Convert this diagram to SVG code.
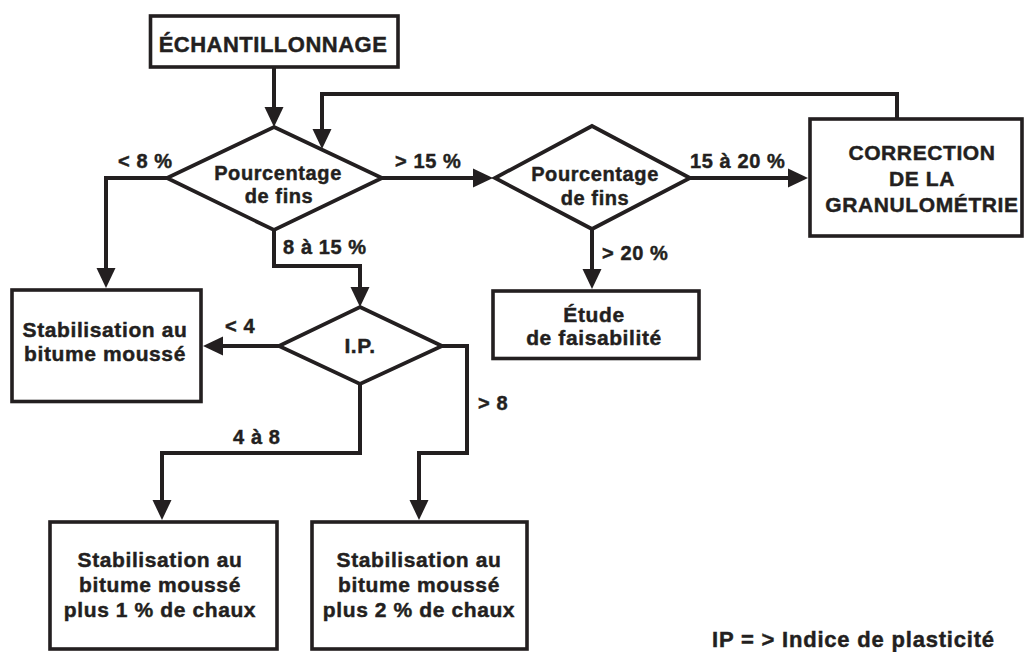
<svg xmlns="http://www.w3.org/2000/svg" width="1026" height="652" viewBox="0 0 1026 652">
<style>
  .bg { fill: #ffffff; }
  .box { fill: #ffffff; stroke: #231f20; stroke-width: 3.6; }
  .dia { fill: #ffffff; stroke: #231f20; stroke-width: 3.8; stroke-linejoin: miter; }
  .con { fill: none; stroke: #231f20; stroke-width: 4; stroke-linejoin: miter; stroke-linecap: butt; }
  text { font-family: "Liberation Sans", Arial, Helvetica, sans-serif; font-weight: bold; fill: #231f20; stroke: #231f20; stroke-width: 0.45; letter-spacing: 0.6px; }
  .t { font-size: 21px; text-anchor: middle; }
  .tp { font-size: 20px; text-anchor: middle; }
  .tb { font-size: 22px; text-anchor: middle; letter-spacing: 0.5px; }
  .lbl { font-size: 20px; text-anchor: start; }
  .note { font-size: 22px; text-anchor: start; letter-spacing: 0.8px; }
</style>
<defs>
  <marker id="arr" markerUnits="userSpaceOnUse" markerWidth="20" markerHeight="20" viewBox="0 0 20 20" refX="10" refY="10" orient="auto">
    <path d="M0,0.5 L20,10 L0,19.5 Z" fill="#231f20"/>
  </marker>
</defs>
<rect class="bg" x="0" y="0" width="1026" height="652"/>

<g id="connectors">
  <path class="con" d="M274,67 V117" marker-end="url(#arr)"/>
  <path class="con" d="M167,178 H106 V278" marker-end="url(#arr)"/>
  <path class="con" d="M382,178 H483" marker-end="url(#arr)"/>
  <path class="con" d="M274,230 V266 H360 V297" marker-end="url(#arr)"/>
  <path class="con" d="M897,119 V94 H322 V139" marker-end="url(#arr)"/>
  <path class="con" d="M690,178 H798" marker-end="url(#arr)"/>
  <path class="con" d="M592,229 V279" marker-end="url(#arr)"/>
  <path class="con" d="M279,346 H213" marker-end="url(#arr)"/>
  <path class="con" d="M360,384 V453 H162 V510" marker-end="url(#arr)"/>
  <path class="con" d="M442,346 H467 V453 H419 V510" marker-end="url(#arr)"/>
  <text class="lbl" x="118" y="168">&lt; 8 %</text>
  <text class="lbl" x="395" y="168">&gt; 15 %</text>
  <text class="lbl" x="283" y="254">8 à 15 %</text>
  <text class="lbl" x="690" y="168">15 à 20 %</text>
  <text class="lbl" x="602" y="260">&gt; 20 %</text>
  <text class="lbl" x="225" y="333">&lt; 4</text>
  <text class="lbl" x="233" y="444">4 à 8</text>
  <text class="lbl" x="478" y="410">&gt; 8</text>
</g>

<g id="echantillonnage">
  <rect class="box" x="150.5" y="16" width="247.5" height="51"/>
  <text class="tb" x="273" y="52">ÉCHANTILLONNAGE</text>
</g>

<g id="pourcentage1">
  <polygon class="dia" points="274,127 382,178 274,230 167,178"/>
  <text class="tp" x="278" y="180">Pourcentage</text>
  <text class="tp" x="279" y="203">de fins</text>
</g>

<g id="pourcentage2">
  <polygon class="dia" points="592,126 690,178 592,229 495,178"/>
  <text class="tp" x="595" y="181">Pourcentage</text>
  <text class="tp" x="595" y="205">de fins</text>
</g>

<g id="correction">
  <rect class="box" x="810" y="119" width="212" height="117"/>
  <text class="t" x="922" y="160">CORRECTION</text>
  <text class="t" x="922" y="186">DE LA</text>
  <text class="t" x="922" y="212">GRANULOMÉTRIE</text>
</g>

<g id="etude">
  <rect class="box" x="493" y="291" width="206" height="67.5"/>
  <text class="t" x="594" y="322">Étude</text>
  <text class="t" x="594" y="345">de faisabilité</text>
</g>

<g id="ip">
  <polygon class="dia" points="360,307 442,346 360,384 279,346"/>
  <text class="t" x="360" y="353">I.P.</text>
</g>

<g id="stab1">
  <rect class="box" x="12" y="290" width="189" height="111.5"/>
  <text class="t" x="105" y="337">Stabilisation au</text>
  <text class="t" x="105" y="361">bitume moussé</text>
</g>

<g id="stab2">
  <rect class="box" x="50" y="522" width="227" height="127"/>
  <text class="t" x="160" y="567">Stabilisation au</text>
  <text class="t" x="160" y="592">bitume moussé</text>
  <text class="t" x="160" y="617">plus 1 % de chaux</text>
</g>

<g id="stab3">
  <rect class="box" x="312" y="522" width="215" height="127"/>
  <text class="t" x="419" y="567">Stabilisation au</text>
  <text class="t" x="419" y="592">bitume moussé</text>
  <text class="t" x="419" y="617">plus 2 % de chaux</text>
</g>

<g id="note">
  <text class="note" x="712" y="647">IP = &gt; Indice de plasticité</text>
</g>
</svg>
